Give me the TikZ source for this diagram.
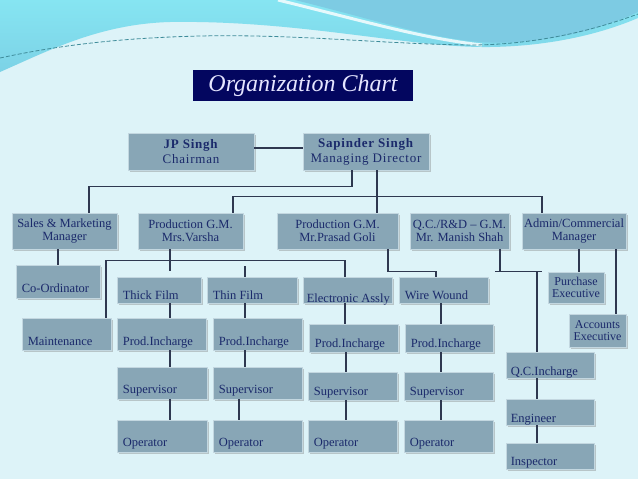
\documentclass[tikz,border=0pt]{standalone}
\usepackage{fontspec}
\setmainfont{Liberation Serif}
\usetikzlibrary{shadows}

\definecolor{pagebg}{HTML}{DDF3F8}
\definecolor{wavecyan}{HTML}{86E5F2}
\definecolor{wavelow}{HTML}{7CD2E6}
\definecolor{waveblue}{HTML}{7DCBE3}
\definecolor{wavedash}{HTML}{3F8C9A}
\definecolor{boxfill}{HTML}{88A6B6}
\definecolor{boxedge}{HTML}{C3D7E0}
\definecolor{inktext}{HTML}{1B2A6B}
\definecolor{linkline}{HTML}{2E3850}
\definecolor{titlebg}{HTML}{03065F}

\tikzset{
  orgbox/.style={draw=boxedge, fill=boxfill, line width=0.8pt, text=inktext,
    font=\fontsize{12.5}{13}\selectfont, align=center, inner sep=1pt,
    drop shadow={shadow xshift=1.5pt, shadow yshift=-1.5pt, opacity=0.4}},
  headbox/.style={orgbox, font=\fontsize{13}{15}\selectfont\addfontfeature{LetterSpace=6}},
  lowtext/.style={anchor=base west, text=inktext, inner sep=0pt,
    font=\fontsize{12.5}{13}\selectfont, xshift=6pt, yshift=4.5pt},
  link/.style={draw=linkline, line width=1.6pt},
}

\begin{document}
\begin{tikzpicture}[x=1pt, y=-1pt]
  \useasboundingbox (0,0) rectangle (638,479);

  % background and waves
  \fill[pagebg] (0,0) rectangle (638,479);
  \shade[top color=wavecyan, bottom color=wavelow] (0,0) -- (0,72) .. controls (50,50) and (100,24) .. (170,22)
    .. controls (300,20) and (410,48) .. (490,47)
    .. controls (560,46) and (610,30) .. (638,18) -- (638,0) -- cycle;
  \fill[waveblue] (295,0) .. controls (375,20) and (430,38) .. (480,42)
    .. controls (540,46) and (600,30) .. (638,12) -- (638,0) -- cycle;
  \draw[white, line width=3pt, opacity=0.8] (278,0) .. controls (360,20) and (420,38) .. (482,45);
  \draw[wavedash, line width=0.8pt, dash pattern=on 4pt off 2pt]
    (0,58) .. controls (60,45) and (120,38) .. (200,36)
    .. controls (300,34) and (380,44) .. (470,45)
    .. controls (540,45) and (600,28) .. (638,14);

  % title
  \node[fill=titlebg, text=white!90!blue, minimum width=220pt, minimum height=31pt,
    font=\fontsize{24}{26}\selectfont\itshape] (title) at (303,85.5) {Organization Chart};

  % top level
  \node[headbox, minimum width=126pt, minimum height=37pt] (jp) at (191,151.5) {\textbf{JP Singh}\\Chairman};
  \node[headbox, minimum width=126pt, minimum height=37pt] (sap) at (366,151.5) {\textbf{Sapinder Singh}\\Managing Director};

  % managers
  \node[orgbox, minimum width=105pt, minimum height=36pt] (sales) at (64.5,231) {Sales \& Marketing\\Manager};
  \node[orgbox, minimum width=105pt, minimum height=36pt] (varsha) at (190.5,231) {Production G.M.\\Mrs.Varsha};
  \node[orgbox, minimum width=121pt, minimum height=36pt] (prasad) at (337.5,231) {Production G.M.\\Mr.Prasad Goli};
  \node[orgbox, minimum width=99pt, minimum height=36pt] (qcgm) at (459.5,231) {Q.C./R\&D -- G.M.\\Mr. Manish Shah};
  \node[orgbox, minimum width=104pt, minimum height=36pt] (admin) at (574,231) {Admin/Commercial\\Manager};

  % sections
  \node[orgbox, minimum width=84pt, minimum height=33pt, label={[lowtext, yshift=1.5pt]south west:Co-Ordinator}] (coord) at (58,281.5) {};
  \node[orgbox, minimum width=84pt, minimum height=26pt, label={[lowtext, yshift=-1pt]south west:Thick Film}] (thick) at (159,290) {};
  \node[orgbox, minimum width=90pt, minimum height=26pt, label={[lowtext, yshift=-1pt]south west:Thin Film}] (thin) at (252,290) {};
  \node[orgbox, minimum width=89pt, minimum height=26pt, label={[lowtext, xshift=-2pt, yshift=-4pt]south west:Electronic Assly}] (elec) at (347.5,290) {};
  \node[orgbox, minimum width=89pt, minimum height=26pt, label={[lowtext, yshift=-0.5pt]south west:Wire Wound}] (wire) at (443.5,290) {};
  \node[orgbox, minimum width=56pt, minimum height=31pt, font=\fontsize{12}{12.5}\selectfont] (purch) at (576,287.5) {Purchase\\Executive};
  \node[orgbox, minimum width=57pt, minimum height=33pt, font=\fontsize{12}{12.5}\selectfont] (acct) at (597.5,330.5) {Accounts\\Executive};

  \node[orgbox, minimum width=89pt, minimum height=32pt, label={[lowtext]south west:Maintenance}] (maint) at (66.5,334) {};
  \node[orgbox, minimum width=89pt, minimum height=32pt, label={[lowtext]south west:Prod.Incharge}] (pi1) at (161.5,334) {};
  \node[orgbox, minimum width=89pt, minimum height=32pt, label={[lowtext]south west:Prod.Incharge}] (pi2) at (257.5,334) {};
  \node[orgbox, minimum width=89pt, minimum height=28pt, label={[lowtext]south west:Prod.Incharge}] (pi3) at (353.5,338) {};
  \node[orgbox, minimum width=88pt, minimum height=28pt, label={[lowtext]south west:Prod.Incharge}] (pi4) at (449,338) {};

  \node[orgbox, minimum width=88pt, minimum height=26pt, label={[lowtext, xshift=-1pt, yshift=-1.5pt]south west:Q.C.Incharge}] (qci) at (550,365) {};
  \node[orgbox, minimum width=90pt, minimum height=32pt, label={[lowtext, yshift=1.5pt]south west:Supervisor}] (sup1) at (162,383) {};
  \node[orgbox, minimum width=89pt, minimum height=32pt, label={[lowtext, yshift=1.5pt]south west:Supervisor}] (sup2) at (257.5,383) {};
  \node[orgbox, minimum width=89pt, minimum height=28pt, label={[lowtext]south west:Supervisor}] (sup3) at (352.5,386) {};
  \node[orgbox, minimum width=89pt, minimum height=28pt, label={[lowtext]south west:Supervisor}] (sup4) at (448.5,386) {};
  \node[orgbox, minimum width=88pt, minimum height=26pt, label={[lowtext, xshift=-1pt, yshift=-2pt]south west:Engineer}] (eng) at (550,412) {};

  \node[orgbox, minimum width=90pt, minimum height=32pt, label={[lowtext, yshift=1.5pt]south west:Operator}] (op1) at (162,436) {};
  \node[orgbox, minimum width=89pt, minimum height=32pt, label={[lowtext, yshift=1.5pt]south west:Operator}] (op2) at (257.5,436) {};
  \node[orgbox, minimum width=89pt, minimum height=32pt, label={[lowtext, yshift=1.5pt]south west:Operator}] (op3) at (352.5,436) {};
  \node[orgbox, minimum width=89pt, minimum height=32pt, label={[lowtext, yshift=1.5pt]south west:Operator}] (op4) at (448.5,436) {};
  \node[orgbox, minimum width=88pt, minimum height=26pt, label={[lowtext, xshift=-1pt, yshift=-0.5pt]south west:Inspector}] (insp) at (550,456) {};

  % connectors
  \draw[link] ([yshift=3.5pt]jp.east) -- ([yshift=3.5pt]sap.west);
  \draw[link] ([xshift=-14pt]sap.south) -- ++(0,16) -| ([xshift=24.5pt]sales.north);
  \draw[link] ([xshift=11pt]sap.south) -- ([xshift=11pt]sap.south |- prasad.north);
  \draw[link] ([xshift=42.5pt]varsha.north) -- ++(0,-16) -| ([xshift=-32pt]admin.north);
  \draw[link] ([xshift=-6.5pt]sales.south) -- ([xshift=-6.5pt]sales.south |- coord.north);
  \draw[link] ([xshift=-20.5pt]varsha.south) -- ++(0,22);
  \draw[link] ([xshift=39.5pt]maint.north) -- ++(0,-57) -| ([xshift=-2.5pt]elec.north);
  \draw[link] ([xshift=-7pt]thin.north) -- ++(0,-11);
  \draw[link] ([xshift=50.5pt]prasad.south) -- ++(0,22) -| ([xshift=-7.5pt]wire.north);
  \draw[link] ([xshift=40.5pt]qcgm.south) -- ++(0,22) coordinate (qcjoin);
  \draw[link] ([xshift=-5pt]qcjoin) -- ++(47,0);
  \draw[link] ([xshift=-13pt]qci.north) -- ([xshift=-13pt]qci.north |- qcjoin);
  \draw[link] ([xshift=5pt]admin.south) -- ([xshift=5pt]admin.south |- purch.north);
  \draw[link] ([xshift=42pt]admin.south) -- ([xshift=42pt]admin.south |- acct.north);

  \foreach \a/\b/\s in {thick/pi1/11, pi1/sup1/8.5, sup1/op1/8,
                        thin/pi2/-7, pi2/sup2/-12.5, sup2/op2/-18.5,
                        elec/pi3/-2.5, pi3/sup3/-7.5, sup3/op3/-6.5,
                        wire/pi4/-2.5, pi4/sup4/-8, sup4/op4/-7.5,
                        qci/eng/-13, eng/insp/-13}
    \draw[link] ([xshift=\s pt]\a.south) -- ([xshift=\s pt]\a.south |- \b.north);

\end{tikzpicture}
\end{document}
